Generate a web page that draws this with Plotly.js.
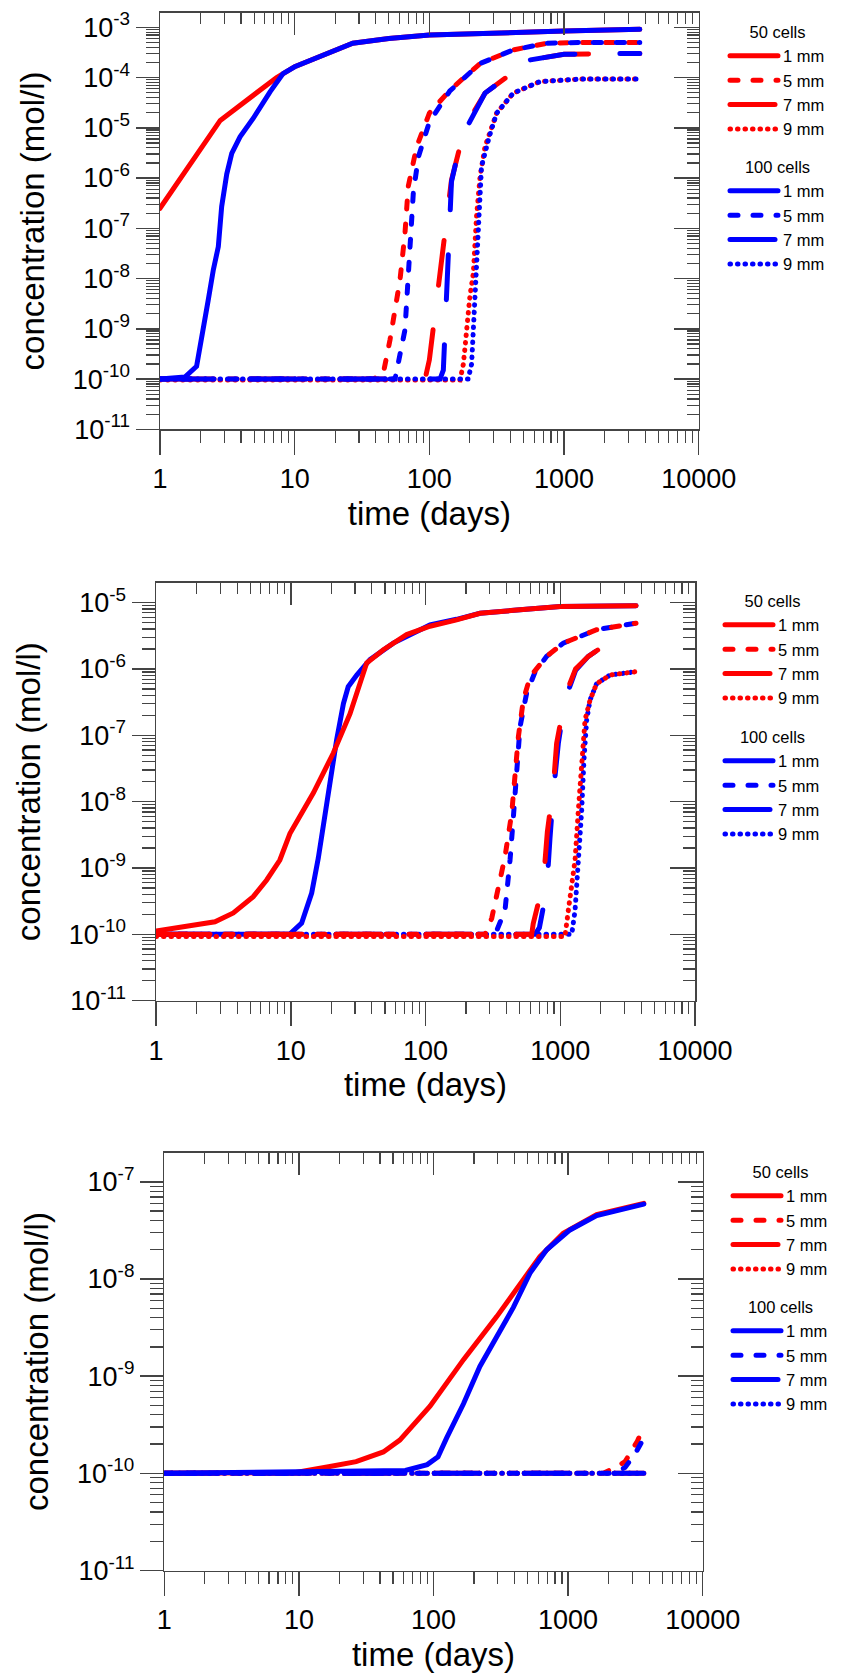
<!DOCTYPE html>
<html>
<head>
<meta charset="utf-8">
<script src="https://cdn.plot.ly/plotly-3.0.1.min.js"></script>
<style>
html, body { margin: 0; padding: 0; background: #ffffff; }
#chart { width: 859px; height: 1673px; }
.js-line { stroke-linecap: round; }
</style>
</head>
<body>
<div id="chart"></div>
<script>
// ---------------- tick labels ----------------
const timeTickVals = [1, 10, 100, 1000, 10000];
const timeTickText = ['1', '10', '100', '1000', '10000'];
const p1ConcTickVals = [1e-11, 1e-10, 1e-9, 1e-8, 1e-7, 1e-6, 1e-5, 1e-4, 1e-3];
const p1ConcTickText = ['10<sup>-11</sup>', '10<sup>-10</sup>', '10<sup>-9</sup>', '10<sup>-8</sup>', '10<sup>-7</sup>', '10<sup>-6</sup>', '10<sup>-5</sup>', '10<sup>-4</sup>', '10<sup>-3</sup>'];
const p2ConcTickVals = [1e-11, 1e-10, 1e-9, 1e-8, 1e-7, 1e-6, 1e-5];
const p2ConcTickText = ['10<sup>-11</sup>', '10<sup>-10</sup>', '10<sup>-9</sup>', '10<sup>-8</sup>', '10<sup>-7</sup>', '10<sup>-6</sup>', '10<sup>-5</sup>'];
const p3ConcTickVals = [1e-11, 1e-10, 1e-9, 1e-8, 1e-7];
const p3ConcTickText = ['10<sup>-11</sup>', '10<sup>-10</sup>', '10<sup>-9</sup>', '10<sup>-8</sup>', '10<sup>-7</sup>'];

const groupTitles = ['50 cells', '100 cells'];
const seriesNames = ['1 mm', '5 mm', '7 mm', '9 mm'];

// ---------------- panel 1 data (time in days, concentration in mol/l) ----------------
const p1_t_50_1 = [1, 2.8, 7.35, 10, 27, 50, 100, 300, 1000, 3650];
const p1_c_50_1 = [2.5e-7, 1.4e-5, 1.0e-4, 1.64e-4, 4.8e-4, 6.0e-4, 7.0e-4, 7.8e-4, 8.4e-4, 9.1e-4];
const p1_t_50_5 = [1, 38.4, 45.5, 51, 60.5, 65.9, 69.7, 80.5, 100, 142, 238, 420, 743, 1312, 3650];
const p1_c_50_5 = [1e-10, 1e-10, 1.3e-10, 6.0e-10, 9.3e-9, 7.9e-8, 6.8e-7, 4.2e-6, 1.95e-5, 5.6e-5, 1.9e-4, 3.55e-4, 4.8e-4, 5.0e-4, 5.0e-4];
const p1_t_50_7 = [1, 93, 100, 110, 123, 134, 146, 184, 259, 558, 1000, 2390, 3650];
const p1_c_50_7 = [1e-10, 1e-10, 2.4e-10, 1.74e-9, 1.86e-8, 1.45e-7, 9.1e-7, 1.05e-5, 4.9e-5, 2.24e-4, 2.9e-4, 3.0e-4, 3.0e-4];
const p1_t_50_9 = [1, 169, 179, 189, 200, 212, 224, 238, 259, 316, 420, 662, 1312, 3650];
const p1_c_50_9 = [9.6e-11, 9.6e-11, 2.0e-10, 9.5e-10, 4.4e-9, 1.26e-8, 1.7e-7, 1.07e-6, 4.2e-6, 1.95e-5, 4.9e-5, 8.3e-5, 9.3e-5, 9.3e-5];

const p1_t_100_1 = [1, 1.53, 1.87, 2.1, 2.28, 2.49, 2.71, 2.87, 3.13, 3.41, 3.93, 4.93, 6.56, 8.2, 10, 27, 50, 100, 300, 1000, 3650];
const p1_c_100_1 = [1e-10, 1.1e-10, 1.8e-10, 9.5e-10, 3.7e-9, 1.5e-8, 4.3e-8, 2.7e-7, 1.2e-6, 3.1e-6, 6.6e-6, 1.55e-5, 5.2e-5, 1.2e-4, 1.64e-4, 4.8e-4, 6.0e-4, 7.0e-4, 7.8e-4, 8.4e-4, 9.1e-4];
const p1_t_100_5 = [1, 55.6, 65.9, 69.7, 72.6, 76, 82.8, 92.8, 100, 142, 238, 420, 743, 1312, 3650];
const p1_c_100_5 = [1e-10, 1e-10, 9.5e-10, 9.3e-9, 7.9e-8, 5.0e-7, 2.6e-6, 7.8e-6, 1.3e-5, 5.4e-5, 1.9e-4, 3.55e-4, 4.8e-4, 5.0e-4, 5.0e-4];
const p1_t_100_7 = [1, 120, 127, 131, 134, 138, 146, 174, 259, 558, 1000, 2390, 3650];
const p1_c_100_7 = [1e-10, 1e-10, 1.5e-10, 1.1e-9, 1.1e-8, 8.5e-8, 8.5e-7, 6.6e-6, 4.9e-5, 2.24e-4, 2.9e-4, 3.0e-4, 3.0e-4];
const p1_t_100_9 = [1, 194, 206, 212, 218, 221, 231, 244, 280, 316, 420, 662, 1312, 3650];
const p1_c_100_9 = [1e-10, 1e-10, 2.0e-10, 9.5e-10, 9.3e-9, 1.26e-8, 1.7e-7, 1.7e-6, 7.0e-6, 1.95e-5, 4.9e-5, 8.3e-5, 9.3e-5, 9.3e-5];

// ---------------- panel 2 data ----------------
const p2_t_50_1 = [1, 2.74, 3.75, 5.27, 6.63, 8.3, 9.86, 14.7, 20.7, 27.5, 36.6, 48.7, 72.5, 108, 170, 254, 503, 1000, 3650];
const p2_c_50_1 = [1.12e-10, 1.55e-10, 2.1e-10, 3.7e-10, 6.6e-10, 1.32e-9, 3.3e-9, 1.35e-8, 5.4e-8, 2.1e-7, 1.23e-6, 1.95e-6, 3.3e-6, 4.4e-6, 5.5e-6, 6.9e-6, 7.8e-6, 8.7e-6, 9.0e-6];
const p2_t_50_5 = [1, 276, 310, 347, 389, 436, 462, 489, 532, 597, 793, 1054, 1862, 3650];
const p2_c_50_5 = [1e-10, 1e-10, 1.74e-10, 5.2e-10, 1.48e-9, 6.6e-9, 2.4e-8, 9.5e-8, 3.4e-7, 7.6e-7, 1.55e-6, 2.45e-6, 3.9e-6, 4.9e-6];
const p2_t_50_7 = [1, 614, 630, 748, 802, 889, 940, 1104, 1300, 1615, 2340, 3650];
const p2_c_50_7 = [1e-10, 1e-10, 1.45e-10, 5.9e-10, 3.5e-9, 1.7e-8, 7.6e-8, 4.3e-7, 1.0e-6, 1.55e-6, 2.57e-6, 2.8e-6];
const p2_t_50_9 = [1, 1084, 1148, 1217, 1288, 1362, 1442, 1527, 1663, 1862, 2340, 3650];
const p2_c_50_9 = [9.3e-11, 9.3e-11, 2.3e-10, 5.2e-10, 1.32e-9, 7.4e-9, 4.3e-8, 1.7e-7, 3.4e-7, 6.0e-7, 8.1e-7, 9.1e-7];

const p2_t_100_1 = [1, 9.8, 12.05, 14.3, 16, 19, 21.9, 24.6, 26.7, 30.9, 38.7, 57.7, 108, 170, 254, 503, 1000, 3650];
const p2_c_100_1 = [1e-10, 1e-10, 1.48e-10, 4.2e-10, 1.4e-9, 1.35e-8, 8.5e-8, 3.0e-7, 5.4e-7, 8.1e-7, 1.38e-6, 2.45e-6, 4.6e-6, 5.6e-6, 6.9e-6, 7.8e-6, 8.7e-6, 9.0e-6];
const p2_t_100_5 = [1, 329, 389, 401, 424, 449, 475, 503, 563, 650, 793, 1054, 1862, 3650];
const p2_c_100_5 = [1e-10, 1e-10, 2.3e-10, 5.2e-10, 1.32e-9, 5.9e-9, 3.4e-8, 1.35e-7, 4.3e-7, 9.0e-7, 1.55e-6, 2.45e-6, 3.9e-6, 4.9e-6];
const p2_t_100_7 = [1, 650, 700, 793, 839, 889, 968, 1084, 1300, 1615, 2340, 3650];
const p2_c_100_7 = [1e-10, 1e-10, 1.26e-10, 4.7e-10, 2.8e-9, 1.35e-8, 7.6e-8, 3.4e-7, 9.5e-7, 1.55e-6, 2.57e-6, 2.8e-6];
const p2_t_100_9 = [1, 1217, 1288, 1324, 1362, 1387, 1442, 1500, 1571, 1663, 1862, 2340, 3650];
const p2_c_100_9 = [1e-10, 1e-10, 2.3e-10, 5.2e-10, 1.32e-9, 1.66e-9, 7.4e-9, 4.3e-8, 1.7e-7, 3.4e-7, 6.0e-7, 8.1e-7, 9.1e-7];

// ---------------- panel 3 data ----------------
const p3_t_50_1 = [1, 9.5, 16.6, 26.6, 42.4, 56.2, 94.2, 167, 295, 415, 617, 920, 1630, 3650];
const p3_c_50_1 = [1e-10, 1.02e-10, 1.17e-10, 1.32e-10, 1.66e-10, 2.2e-10, 4.9e-10, 1.48e-9, 4.1e-9, 7.8e-9, 1.7e-8, 2.95e-8, 4.6e-8, 6.0e-8];
const p3_t_50_5 = [1, 1828, 2296, 2650, 3020, 3270, 3650];
const p3_c_50_5 = [1e-10, 1e-10, 1.17e-10, 1.32e-10, 1.78e-10, 2.14e-10, 3.0e-10];
const p3_t_50_7 = [1, 3650];
const p3_c_50_7 = [1e-10, 1e-10];
const p3_t_50_9 = [1, 3650];
const p3_c_50_9 = [1e-10, 1e-10];

const p3_t_100_1 = [1, 61.8, 89.8, 108, 125, 167, 221, 295, 392, 521, 693, 1033, 1630, 3650];
const p3_c_100_1 = [1e-10, 1.07e-10, 1.23e-10, 1.48e-10, 2.3e-10, 5.2e-10, 1.26e-9, 2.6e-9, 5.1e-9, 1.15e-8, 2.0e-8, 3.2e-8, 4.5e-8, 5.9e-8];
const p3_t_100_5 = [1, 2000, 2360, 2650, 3140, 3380, 3650];
const p3_c_100_5 = [1e-10, 1e-10, 1.05e-10, 1.15e-10, 1.58e-10, 1.86e-10, 2.3e-10];
const p3_t_100_7 = [1, 3650];
const p3_c_100_7 = [1e-10, 1e-10];
const p3_t_100_9 = [1, 3650];
const p3_c_100_9 = [1e-10, 1e-10];

// ---------------- styling ----------------
const W = 859, H = 1673;
const FONT = 'Liberation Sans, Arial, sans-serif';
const AX = '#444444';
const RED = '#ff0000', BLUE = '#0000ff';
const DASH = {'1 mm': 'solid', '5 mm': '8px,15px', '7 mm': '45px,45px', '9 mm': '0.5px,7px'};

function line(t, c, name, color, xa, ya, legend) {
  return {
    type: 'scatter', mode: 'lines', x: t, y: c, name: name,
    xaxis: xa, yaxis: ya, legend: legend,
    line: {color: color, width: 5, dash: DASH[name]},
    hoverinfo: 'skip'
  };
}

// Each panel: one cell count on the main axes (bottom/left), the other on the
// overlaid twin axes (top/right, identical ranges) which are drawn on top.
const traces = [
  // panel 1 : red (50 cells) below, blue (100 cells) on top
  line(p1_t_50_1, p1_c_50_1, seriesNames[0], RED, 'x', 'y', 'legend'),
  line(p1_t_50_5, p1_c_50_5, seriesNames[1], RED, 'x', 'y', 'legend'),
  line(p1_t_50_7, p1_c_50_7, seriesNames[2], RED, 'x', 'y', 'legend'),
  line(p1_t_50_9, p1_c_50_9, seriesNames[3], RED, 'x', 'y', 'legend'),
  line(p1_t_100_1, p1_c_100_1, seriesNames[0], BLUE, 'x2', 'y2', 'legend2'),
  line(p1_t_100_5, p1_c_100_5, seriesNames[1], BLUE, 'x2', 'y2', 'legend2'),
  line(p1_t_100_7, p1_c_100_7, seriesNames[2], BLUE, 'x2', 'y2', 'legend2'),
  line(p1_t_100_9, p1_c_100_9, seriesNames[3], BLUE, 'x2', 'y2', 'legend2'),
  // panel 2 : blue below, red on top
  line(p2_t_100_1, p2_c_100_1, seriesNames[0], BLUE, 'x3', 'y3', 'legend4'),
  line(p2_t_100_5, p2_c_100_5, seriesNames[1], BLUE, 'x3', 'y3', 'legend4'),
  line(p2_t_100_7, p2_c_100_7, seriesNames[2], BLUE, 'x3', 'y3', 'legend4'),
  line(p2_t_100_9, p2_c_100_9, seriesNames[3], BLUE, 'x3', 'y3', 'legend4'),
  line(p2_t_50_1, p2_c_50_1, seriesNames[0], RED, 'x4', 'y4', 'legend3'),
  line(p2_t_50_5, p2_c_50_5, seriesNames[1], RED, 'x4', 'y4', 'legend3'),
  line(p2_t_50_7, p2_c_50_7, seriesNames[2], RED, 'x4', 'y4', 'legend3'),
  line(p2_t_50_9, p2_c_50_9, seriesNames[3], RED, 'x4', 'y4', 'legend3'),
  // panel 3 : red below, blue on top
  line(p3_t_50_1, p3_c_50_1, seriesNames[0], RED, 'x5', 'y5', 'legend5'),
  line(p3_t_50_5, p3_c_50_5, seriesNames[1], RED, 'x5', 'y5', 'legend5'),
  line(p3_t_50_7, p3_c_50_7, seriesNames[2], RED, 'x5', 'y5', 'legend5'),
  line(p3_t_50_9, p3_c_50_9, seriesNames[3], RED, 'x5', 'y5', 'legend5'),
  line(p3_t_100_1, p3_c_100_1, seriesNames[0], BLUE, 'x6', 'y6', 'legend6'),
  line(p3_t_100_5, p3_c_100_5, seriesNames[1], BLUE, 'x6', 'y6', 'legend6'),
  line(p3_t_100_7, p3_c_100_7, seriesNames[2], BLUE, 'x6', 'y6', 'legend6'),
  line(p3_t_100_9, p3_c_100_9, seriesNames[3], BLUE, 'x6', 'y6', 'legend6')
];

// ---------------- layout helpers ----------------
function domX(l, r) { return [l / W, r / W]; }
function domY(top, bottom) { return [1 - bottom / H, 1 - top / H]; }

const common = {
  type: 'log', showgrid: false, zeroline: false, showline: true,
  linecolor: AX, linewidth: 1.5, tickcolor: AX, tickwidth: 1.5,
  tickmode: 'array', fixedrange: true
};
function minorTicks(dir, len) {
  return {ticks: dir, ticklen: len, tickcolor: AX, tickwidth: 1.2, dtick: 'D1', showgrid: false};
}
function bottomX(dom, ya) {
  return Object.assign({}, common, {
    domain: dom, anchor: ya, range: [0, 4], side: 'bottom',
    tickvals: timeTickVals, ticktext: timeTickText,
    ticks: 'outside', ticklen: 24, ticklabelstandoff: 1,
    tickfont: {family: FONT, size: 27, color: '#000'},
    minor: minorTicks('outside', 12),
    title: {text: 'time (days)', font: {family: FONT, size: 33, color: '#000'}, standoff: 8}
  });
}
function topX(over, ya) {
  return Object.assign({}, common, {
    overlaying: over, anchor: ya, range: [0, 4], side: 'top',
    tickvals: timeTickVals, ticktext: timeTickText,
    ticks: 'inside', ticklen: 22, showticklabels: false,
    minor: minorTicks('inside', 11)
  });
}
function leftY(dom, xa, range, vals, text) {
  return Object.assign({}, common, {
    domain: dom, anchor: xa, range: range, side: 'left',
    tickvals: vals, ticktext: text,
    ticks: 'outside', ticklen: 23,
    tickfont: {family: FONT, size: 27, color: '#000'},
    minor: minorTicks('outside', 13),
    title: {text: 'concentration (mol/l)', font: {family: FONT, size: 33, color: '#000'}, standoff: 18}
  });
}
function rightY(over, xa, range, vals, text) {
  return Object.assign({}, common, {
    overlaying: over, anchor: xa, range: range, side: 'right',
    tickvals: vals, ticktext: text,
    ticks: 'inside', ticklen: 25, showticklabels: false,
    minor: minorTicks('inside', 12)
  });
}
function legendBox(xPx, topPx, title) {
  return {
    x: xPx / W, y: 1 - topPx / H, xanchor: 'left', yanchor: 'top',
    bgcolor: 'rgba(0,0,0,0)', borderwidth: 0,
    font: {family: FONT, size: 16.5, color: '#000'},
    title: {text: title, side: 'top center', font: {family: FONT, size: 16.5, color: '#000'}},
    itemwidth: 48, tracegroupgap: 0, itemclick: false, itemdoubleclick: false
  };
}

const p1Range = [-11, -2.71], p2Range = [-11, -4.70], p3Range = [-11, -6.70];

const layout = {
  width: W, height: H,
  margin: {l: 0, r: 0, t: 0, b: 0, pad: 0},
  paper_bgcolor: '#ffffff', plot_bgcolor: 'rgba(0,0,0,0)',
  font: {family: FONT, color: '#000'},
  showlegend: true,
  xaxis: bottomX(domX(160, 698.7), 'y'),
  xaxis2: topX('x', 'y2'),
  yaxis: leftY(domY(12.7, 429.3), 'x', p1Range, p1ConcTickVals, p1ConcTickText),
  yaxis2: rightY('y', 'x2', p1Range, p1ConcTickVals, p1ConcTickText),
  xaxis3: bottomX(domX(156, 695), 'y3'),
  xaxis4: topX('x3', 'y4'),
  yaxis3: leftY(domY(582.7, 1000.7), 'x3', p2Range, p2ConcTickVals, p2ConcTickText),
  yaxis4: rightY('y3', 'x4', p2Range, p2ConcTickVals, p2ConcTickText),
  xaxis5: bottomX(domX(164.3, 702.7), 'y5'),
  xaxis6: topX('x5', 'y6'),
  yaxis5: leftY(domY(1152.7, 1570.5), 'x5', p3Range, p3ConcTickVals, p3ConcTickText),
  yaxis6: rightY('y5', 'x6', p3Range, p3ConcTickVals, p3ConcTickText),
  legend: legendBox(725, 17, groupTitles[0]),
  legend2: legendBox(725, 152, groupTitles[1]),
  legend3: legendBox(720, 586, groupTitles[0]),
  legend4: legendBox(720, 722, groupTitles[1]),
  legend5: legendBox(728, 1157, groupTitles[0]),
  legend6: legendBox(728, 1292, groupTitles[1])
};

Plotly.newPlot('chart', traces, layout, {displayModeBar: false, staticPlot: true});
</script>
</body>
</html>
